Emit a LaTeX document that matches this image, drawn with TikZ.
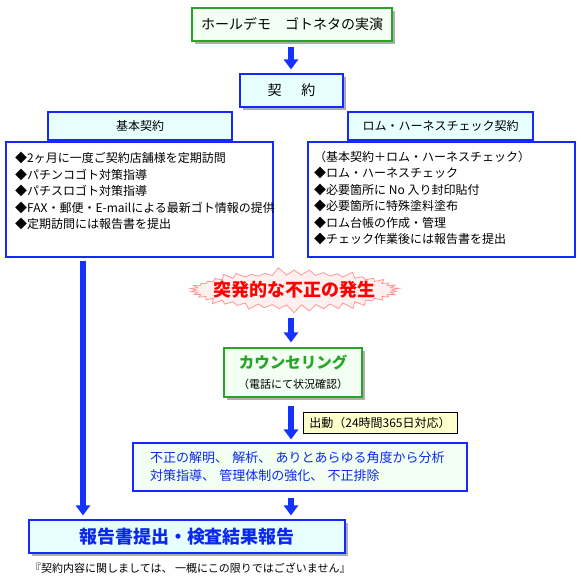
\documentclass[tikz,border=0pt]{standalone}
\usepackage{fontspec}
\setmainfont{Noto Sans CJK JP}
\usetikzlibrary{arrows.meta,shadows,shapes.symbols}
\definecolor{gline}{RGB}{40,165,40}
\definecolor{gfill}{RGB}{242,255,242}
\definecolor{bline}{RGB}{20,40,255}
\definecolor{cfill}{RGB}{232,255,255}
\definecolor{arrblue}{RGB}{20,50,255}
\definecolor{yfill}{RGB}{255,255,204}
\definecolor{burstline}{RGB}{255,150,150}
\definecolor{burstfill}{RGB}{255,240,240}
\definecolor{btext}{RGB}{10,40,240}

\begin{document}
\begin{tikzpicture}[x=1pt, y=-1pt,
      gbox/.style={draw=gline, line width=1.2pt, fill=gfill, inner sep=0pt},
      cbox/.style={draw=bline, line width=1.1pt, fill=cfill, inner sep=0pt},
      wbox/.style={draw=bline, line width=1.1pt, fill=white, inner sep=0pt},
      shade/.style={drop shadow={shadow xshift=3pt, shadow yshift=-3pt, fill=black!45, opacity=0.7}},
      lst/.style={font=\fontsize{12}{16.5}\selectfont, align=left, inner sep=0pt, anchor=north west},
      arr/.style={draw=arrblue, line width=6pt, -{Triangle[width=14pt,length=10pt]}},
      f12/.style={font=\fontsize{12}{14}\selectfont}
    ]
    \fill[white] (0,0) rectangle (581,582);
    \useasboundingbox (0,0) rectangle (581,582);
    \coordinate (mid) at (291,0);
    \coordinate (lft) at (83,0);

    \node[gbox, shade, minimum width=200pt, minimum height=33pt, font=\fontsize{14}{16}\selectfont] (demo) at (292,24.5) {ホールデモ　ゴトネタの実演};
    \node[cbox, shade, minimum width=103pt, minimum height=33pt, font=\fontsize{14}{16}\selectfont] (keiyaku) at (291.5,90.5) {契\hspace{20pt}約};

    \node[cbox, minimum width=184pt, minimum height=28pt, f12] (kihon) at (140,126) {基本契約};
    \node[cbox, minimum width=185pt, minimum height=28pt, f12] (rom) at (440.5,126) {ロム・ハーネスチェック契約};

    \node[wbox, minimum width=267pt, minimum height=115pt] (kihonbox) at (139.5,199.5) {};
    \node[lst] (kihonlst) at (15,152) {◆2ヶ月に一度ご契約店舗様を定期訪問\\◆パチンコゴト対策指導\\◆パチスロゴト対策指導\\◆FAX・郵便・E-mailによる最新ゴト情報の提供\\◆定期訪問には報告書を提出};
    \node[wbox, minimum width=267pt, minimum height=115pt] (rombox) at (441.5,199.5) {};
    \node[lst] (romlst) at (314,151) {（基本契約＋ロム・ハーネスチェック）\\◆ロム・ハーネスチェック\\◆必要箇所に No 入り封印貼付\\◆必要箇所に特殊塗料塗布\\◆ロム台帳の作成・管理\\◆チェック作業後には報告書を提出};

    \node[starburst, draw=burstline, fill=burstfill, line width=0.8pt, inner xsep=-12pt, inner ysep=2pt,
      starburst points=42, starburst point height=8pt, random starburst=5, text=red,
      font=\bfseries\fontsize{18}{20}\selectfont] (burst) at (294,290) {突発的な不正の発生};

    \node[gbox, shade, minimum width=138pt, minimum height=49pt, align=center, font=\fontsize{11}{20}\selectfont] (couns) at (293,372.5)
      {{\color{gline}\bfseries\fontsize{15.5}{20}\selectfont カウンセリング}\\（電話にて状況確認）};
    \node[draw=black, line width=0.6pt, fill=yfill, minimum width=154pt, minimum height=21pt, inner sep=0pt, f12] (shutsudo) at (380,422.5) {出動（24時間365日対応）};

    \node[draw=bline, line width=1.1pt, fill=gfill, text width=300pt, inner xsep=17pt, inner ysep=0pt, minimum height=48pt,
      align=left, text=btext, font=\fontsize{13}{18}\selectfont] (kaimei) at (300,467)
      {不正の解明、 解析、 ありとあらゆる角度から分析\\対策指導、 管理体制の強化、 不正排除};

    \node[cbox, shade, minimum width=316pt, minimum height=33pt, text=btext, font=\bfseries\fontsize{18}{20}\selectfont] (houkoku) at (187,536.5) {報告書提出・検査結果報告};
    \node[anchor=west, inner sep=0pt, font=\fontsize{11}{13}\selectfont] (chuui) at (30,568) {『契約内容に関しましては、 一概にこの限りではございません』};

    \draw[arr, shorten <=5pt, shorten >=4pt] (demo.south -| mid) -- (keiyaku.north -| mid);
    \draw[arr, shorten <=5pt, shorten >=5pt] (burst.south -| mid) -- (couns.north -| mid);
    \draw[arr, shorten <=8pt, shorten >=3pt] (couns.south -| mid) -- (kaimei.north -| mid);
    \draw[arr, shorten <=6pt, shorten >=4pt] (kaimei.south -| mid) -- (houkoku.north -| mid);
    \draw[arr, shorten <=3pt, shorten >=4pt] (kihonbox.south -| lft) -- (houkoku.north -| lft);
  \end{tikzpicture}
\end{document}
